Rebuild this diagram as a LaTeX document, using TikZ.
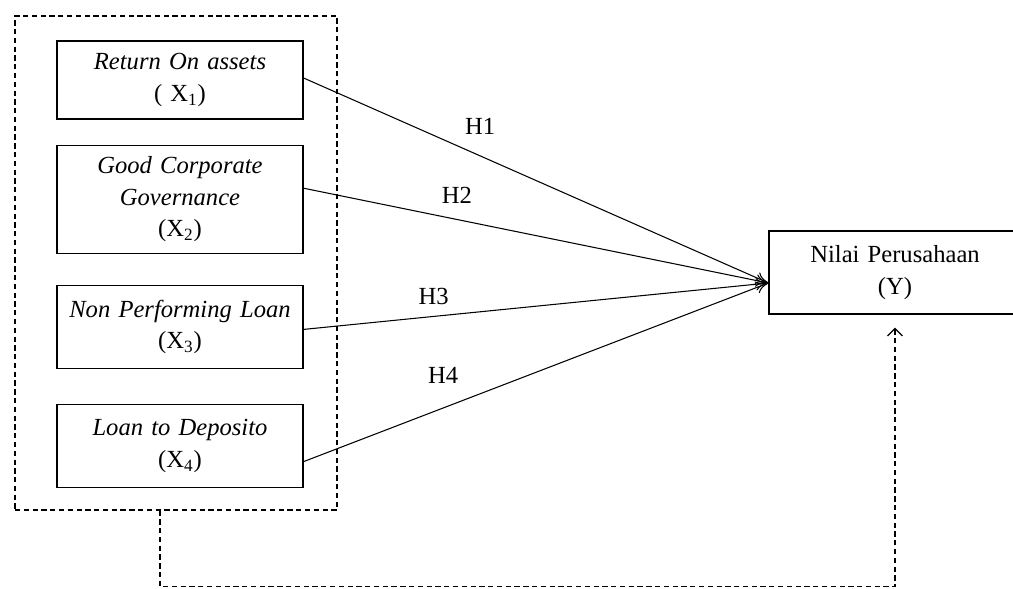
\documentclass[tikz,border=0pt]{standalone}
\usepackage{fontspec}
\setmainfont{Liberation Serif}
\usetikzlibrary{positioning,arrows.meta}

\begin{document}
\begin{tikzpicture}[
    x=0.02cm, y=-0.02cm,
    every node/.style={font=\fontsize{14}{18}\selectfont},
    varbox/.style={rectangle, draw, line width=0.7pt, text width=4.6cm,
                   align=center, minimum width=4.92cm, inner sep=2pt},
    groupbox/.style={rectangle, draw, line width=0.7pt, dash pattern=on 3pt off 2pt},
    hlabel/.style={inner sep=0pt},
    arrow/.style={-{To[length=2.5mm, width=2.5mm]}, line width=0.6pt},
    dasharrow/.style={-{Straight Barb[length=1.5mm, width=3mm]}, line width=0.7pt,
                      dash pattern=on 3pt off 2pt},
]
\useasboundingbox (0,0) rectangle (1013,588);
\node[varbox, minimum height=1.56cm] (roa) at (180,80) {\textit{Return On assets}\\( X\textsubscript{1})};
\node[varbox, minimum height=2.16cm, below=0.5cm of roa] (gcg) {\textit{Good Corporate}\\\textit{Governance}\\(X\textsubscript{2})};
\node[varbox, minimum height=1.66cm, below=0.62cm of gcg] (npl) {\textit{Non Performing Loan}\\(X\textsubscript{3})};
\node[varbox, minimum height=1.66cm, below=0.7cm of npl] (ldr) {\textit{Loan to Deposito}\\(X\textsubscript{4})};
\node[groupbox, minimum width=6.44cm, minimum height=9.88cm] (group) at (176,263) {};
\node[varbox, minimum width=5.04cm, text width=4.7cm, minimum height=1.66cm] (nilai) at (895,272.5) {Nilai Perusahaan\\(Y)};
% hipotesis
\coordinate (target) at ([yshift=-0.21cm]nilai.west);
\draw[arrow] ([yshift=0.04cm]roa.east) -- node[hlabel, pos=0.38, yshift=0.6cm] (h1) {H1} (target);
\draw[arrow] ([yshift=0.22cm]gcg.east) -- node[hlabel, pos=0.33, yshift=0.48cm] (h2) {H2} (target);
\draw[arrow] ([yshift=-0.05cm]npl.east) -- node[hlabel, pos=0.28, yshift=0.39cm] (h3) {H3} (target);
\draw[arrow] ([yshift=-0.31cm]ldr.east) -- node[hlabel, pos=0.3, yshift=0.66cm] (h4) {H4} (target);
% simultan
\draw[dasharrow] ([xshift=-0.32cm]group.south) -- ++(0,76) -| ([yshift=-0.26cm]nilai.south);
\end{tikzpicture}
\end{document}
